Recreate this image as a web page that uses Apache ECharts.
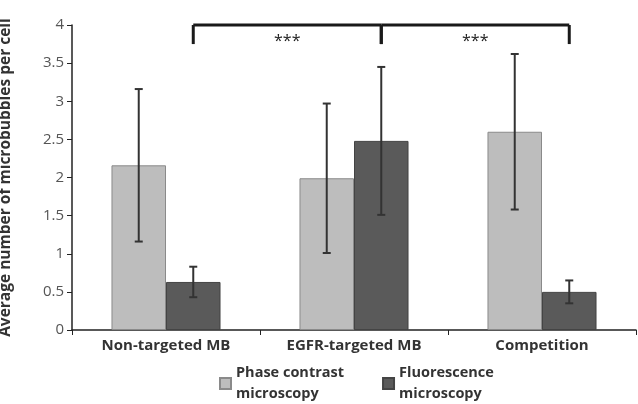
<!DOCTYPE html>
<html>
<head>
<meta charset="utf-8">
<script src="https://cdn.jsdelivr.net/npm/echarts@6/dist/echarts.min.js"></script>
<style>
  html, body { margin: 0; padding: 0; background: #fff; }
  #main { width: 638px; height: 404px; }
</style>
</head>
<body>
<div id="main"></div>
<script>
// categories and values
var categories = ['Non-targeted MB', 'EGFR-targeted MB', 'Competition'];
var seriesNames = ['Phase contrast\nmicroscopy', 'Fluorescence\nmicroscopy'];
var phaseValues = [2.16, 1.99, 2.6];
var phaseErrors = [1.0, 0.98, 1.02];
var fluorValues = [0.63, 2.48, 0.5];
var fluorErrors = [0.2, 0.97, 0.15];
// significance brackets (between fluorescence bars)
var brackets = [[0, 1, '***'], [1, 2, '***']];
var bracketTop = 4.0;
var bracketFoot = 3.75;

var myChart = echarts.init(document.getElementById('main'));
var fontFam = '"Open Sans", "Noto Sans", sans-serif';
var gapRatio = 0.42;

function errData(values, errors) {
  var out = [];
  for (var i = 0; i < values.length; i++) {
    out.push([i, values[i] - errors[i], values[i] + errors[i]]);
  }
  return out;
}

function errRender(slot) {
  return function (params, api) {
    var band = api.size([1, 0])[0];
    var bw = band * (1 - gapRatio) / 2;
    var off = (slot - 0.5) * bw;
    var lo = api.coord([api.value(0), api.value(1)]);
    var hi = api.coord([api.value(0), api.value(2)]);
    var x = lo[0] + off;
    var cap = 4;
    var st = { stroke: '#333', lineWidth: 2 };
    return {
      type: 'group',
      children: [
        { type: 'line', shape: { x1: x, y1: lo[1], x2: x, y2: hi[1] }, style: st },
        { type: 'line', shape: { x1: x - cap, y1: lo[1], x2: x + cap, y2: lo[1] }, style: st },
        { type: 'line', shape: { x1: x - cap, y1: hi[1], x2: x + cap, y2: hi[1] }, style: st }
      ]
    };
  };
}

var option = {
  backgroundColor: '#ffffff',
  animation: false,
  grid: { left: 72, right: 2, top: 25, bottom: 74, outerBoundsMode: 'none' },
  legend: {
    data: seriesNames,
    left: 214,
    top: 347,
    itemGap: 38,
    itemWidth: 11,
    itemHeight: 11,
    icon: 'rect',
    textStyle: {
      fontFamily: fontFam, fontSize: 14.5, fontWeight: 'bold', color: '#333',
      lineHeight: 21, padding: [21, 0, 0, 0]
    }
  },
  xAxis: {
    type: 'category',
    data: categories,
    axisLine: { lineStyle: { color: '#222', width: 1.5 } },
    axisTick: { show: true, length: 5, lineStyle: { color: '#222' } },
    axisLabel: { fontFamily: fontFam, fontSize: 15, fontWeight: 'bold', color: '#333', margin: 8 }
  },
  yAxis: {
    type: 'value',
    min: 0,
    max: 4,
    interval: 0.5,
    name: 'Average number of microbubbles per cell',
    nameLocation: 'middle',
    nameGap: 58,
    nameTextStyle: { fontFamily: fontFam, fontSize: 15.5, fontWeight: 'bold', color: '#333' },
    axisLine: { show: true, lineStyle: { color: '#222', width: 1.5 } },
    axisTick: { show: true, length: 5, lineStyle: { color: '#222' } },
    splitLine: { show: false },
    axisLabel: { fontFamily: fontFam, fontSize: 15, color: '#555', margin: 8 }
  },
  series: [
    {
      name: seriesNames[0],
      type: 'bar',
      data: phaseValues,
      barGap: '0%',
      barCategoryGap: (gapRatio * 100) + '%',
      itemStyle: { color: '#bdbdbd', borderColor: '#8a8a8a', borderWidth: 1 }
    },
    {
      name: seriesNames[1],
      type: 'bar',
      data: fluorValues,
      itemStyle: { color: '#5a5a5a', borderColor: '#444', borderWidth: 1 }
    },
    {
      type: 'custom',
      data: errData(phaseValues, phaseErrors),
      encode: { x: 0, y: [1, 2] },
      renderItem: errRender(0),
      clip: false,
      z: 5
    },
    {
      type: 'custom',
      data: errData(fluorValues, fluorErrors),
      encode: { x: 0, y: [1, 2] },
      renderItem: errRender(1),
      clip: false,
      z: 5
    },
    {
      type: 'custom',
      data: brackets,
      clip: false,
      z: 6,
      renderItem: function (params, api) {
        var band = api.size([1, 0])[0];
        var bw = band * (1 - gapRatio) / 2;
        var a = api.coord([api.value(0), bracketTop]);
        var b = api.coord([api.value(1), bracketTop]);
        var foot = api.coord([api.value(0), bracketFoot])[1];
        var x1 = a[0] + bw / 2;
        var x2 = b[0] + bw / 2;
        var st = { stroke: '#1a1a1a', lineWidth: 3 };
        return {
          type: 'group',
          children: [
            { type: 'line', shape: { x1: x1, y1: a[1], x2: x2, y2: a[1] }, style: st },
            { type: 'line', shape: { x1: x1, y1: a[1], x2: x1, y2: foot }, style: st },
            { type: 'line', shape: { x1: x2, y1: a[1], x2: x2, y2: foot }, style: st },
            {
              type: 'text',
              style: {
                x: (x1 + x2) / 2, y: a[1] + 16,
                text: brackets[params.dataIndex][2],
                align: 'center', verticalAlign: 'middle',
                font: '16px ' + fontFam, fill: '#222'
              }
            }
          ]
        };
      }
    }
  ]
};

myChart.setOption(option);
</script>
</body>
</html>
